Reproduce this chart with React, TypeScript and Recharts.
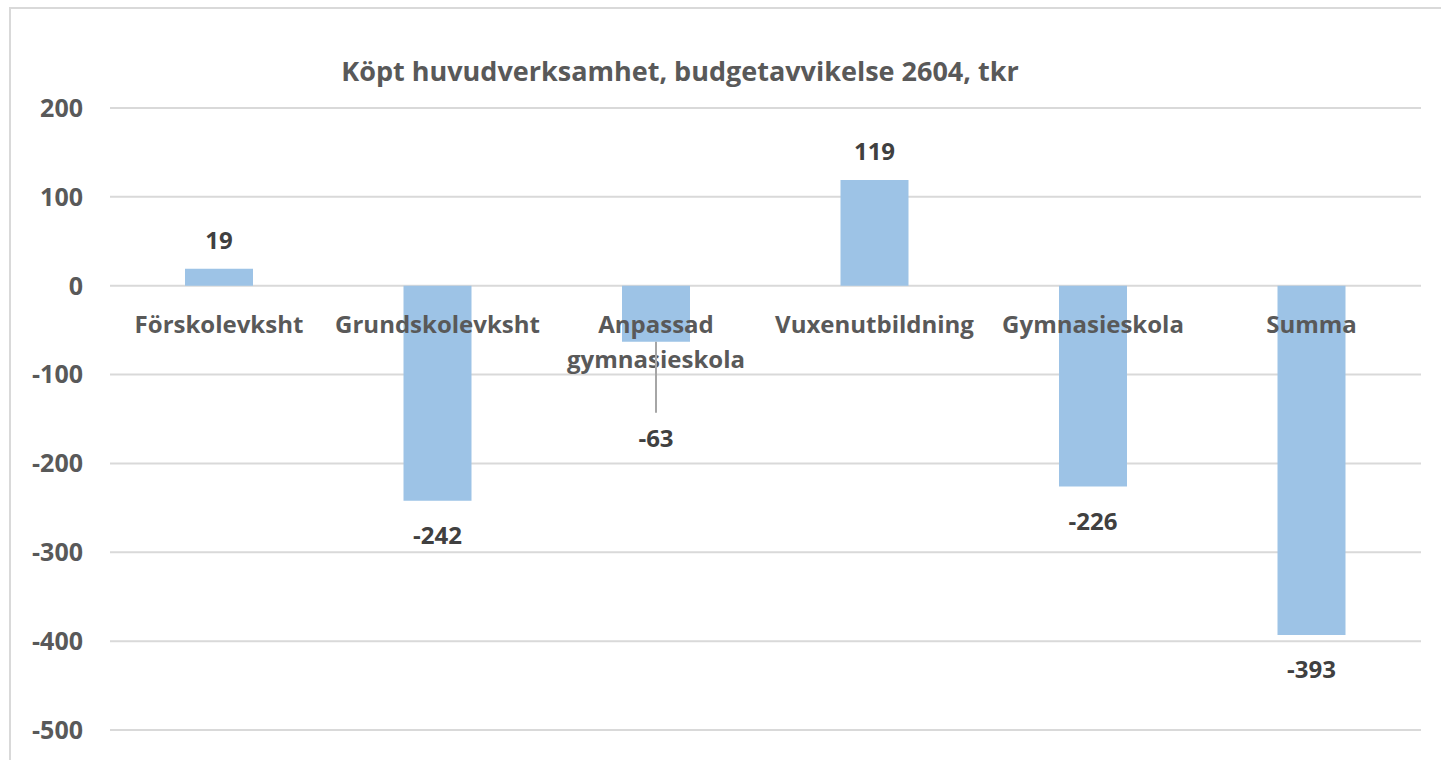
import React from 'react';
import { Bar, BarChart, CartesianGrid, LabelList, XAxis, YAxis } from 'recharts';

const categories = [
  'Förskolevksht',
  'Grundskolevksht',
  'Anpassad\ngymnasieskola',
  'Vuxenutbildning',
  'Gymnasieskola',
  'Summa',
];
const values = [19, -242, -63, 119, -226, -393];
const yTicks = [200, 100, 0, -100, -200, -300, -400, -500];
const title = 'Köpt huvudverksamhet, budgetavvikelse 2604, tkr';

const data = categories.map((name, i) => ({ name, value: values[i] }));

const FONT = '"Open Sans", "Liberation Sans", sans-serif';
const GREY = '#595959';
const DARK = '#404040';
// the -63 label was dragged down in the original, with a leader line
const LEADER_INDEX = 2;
const LEADER_LEN = 71;

// pixel y of the zero line, taken from the bar's own rectangle
function zeroLine(props: any, v: number) {
  const { y, height } = props;
  if (height < 0) return y + height;
  return v >= 0 ? y + height : y;
}

const CategoryLabel = (props: any) => {
  const { x, width, value, index } = props;
  const base = zeroLine(props, values[index]);
  const lines = String(value).split('\n');
  return (
    <text
      x={x + width / 2}
      y={base + 47}
      textAnchor="middle"
      fontFamily={FONT}
      fontWeight={700}
      fontSize={24}
      fill={GREY}
    >
      {lines.map((l, i) => (
        <tspan key={i} x={x + width / 2} dy={i === 0 ? 0 : 35}>
          {l}
        </tspan>
      ))}
    </text>
  );
};

const ValueLabel = (props: any) => {
  const { x, y, width, height, value, index } = props;
  const cx = x + width / 2;
  const end = value >= 0 ? Math.min(y, y + height) : Math.max(y, y + height);
  if (value >= 0) {
    return (
      <text x={cx} y={end - 20} textAnchor="middle" fontFamily={FONT} fontWeight={700} fontSize={24} fill={DARK}>
        {value}
      </text>
    );
  }
  if (index === LEADER_INDEX) {
    return (
      <g>
        <line x1={cx} y1={end} x2={cx} y2={end + LEADER_LEN} stroke="#a6a6a6" strokeWidth={2} />
        <text x={cx} y={end + LEADER_LEN + 34} textAnchor="middle" fontFamily={FONT} fontWeight={700} fontSize={24} fill={DARK}>
          {value}
        </text>
      </g>
    );
  }
  return (
    <text x={cx} y={end + 43} textAnchor="middle" fontFamily={FONT} fontWeight={700} fontSize={24} fill={DARK}>
      {value}
    </text>
  );
};

export default function App() {
  return (
    <div style={{ position: 'absolute', left: 0, top: 0, width: 1441, height: 760, background: '#fff', overflow: 'hidden' }}>
      <div
        style={{
          position: 'absolute',
          left: 9,
          top: 7,
          width: 1440,
          height: 770,
          borderLeft: '2px solid #d9d9d9',
          borderTop: '2px solid #d9d9d9',
        }}
      />
      <div
        style={{
          position: 'absolute',
          left: 0,
          top: 53,
          width: 1360,
          textAlign: 'center',
          fontFamily: FONT,
          fontWeight: 700,
          fontSize: 27,
          lineHeight: '36px',
          color: GREY,
        }}
      >
        {title}
      </div>
      <div style={{ position: 'absolute', left: 0, top: 0 }}>
        <BarChart width={1441} height={760} data={data} margin={{ top: 108, right: 20, bottom: 30, left: 0 }}>
          <CartesianGrid vertical={false} stroke="#d9d9d9" strokeWidth={2} />
          <XAxis dataKey="name" hide />
          <YAxis
            width={110}
            domain={[-500, 200]}
            ticks={yTicks}
            interval={0}
            axisLine={false}
            tickLine={false}
            tickSize={0}
            tickMargin={27}
            tick={{ fontFamily: FONT, fontWeight: 700, fontSize: 25, fill: GREY }}
          />
          <Bar dataKey="value" fill="#9dc3e6" barSize={68} isAnimationActive={false}>
            <LabelList dataKey="name" content={CategoryLabel} />
            <LabelList dataKey="value" content={ValueLabel} />
          </Bar>
        </BarChart>
      </div>
    </div>
  );
}
